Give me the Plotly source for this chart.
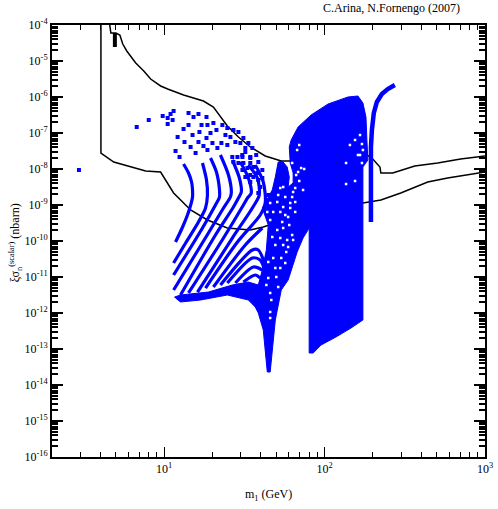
import plotly.graph_objects as go
import numpy as np

# all values are log10(mass / GeV) and log10(sigma / nbarn)
limit_upper_lm = [0.661,0.668,0.699,0.724,0.742,0.767,0.823,0.873,0.916,0.978,1.022,1.071,1.121,1.183,1.245,1.307,1.351,1.394,1.463,1.537,1.630,1.730,1.786,2.264,2.295,2.345,2.351,2.425,2.562,2.705,2.848,3.0]
limit_upper_ls = [-4,-4.222,-4.222,-4.278,-4.528,-4.722,-5.056,-5.278,-5.5,-5.694,-5.778,-5.861,-5.944,-6.028,-6.111,-6.278,-6.556,-6.806,-7.111,-7.389,-7.639,-7.778,-7.778,-7.611,-7.694,-7.944,-8.111,-8.111,-7.917,-7.833,-7.722,-7.639]
limit_lower_lm = [0.606,0.606,0.686,0.749,0.811,0.885,0.978,1.059,1.165,1.270,1.394,1.537,1.618,1.786,2.239,2.351,2.475,2.643,2.767,3.0]
limit_lower_ls = [-4,-7.556,-7.806,-7.889,-7.972,-8.056,-8.083,-8.667,-9.139,-9.417,-9.639,-9.694,-9.611,-9.361,-8.944,-8.861,-8.667,-8.361,-8.25,-8.083]
stub_lm = [0.693,0.693]
stub_ls = [-4.222,-4.611]

arcs = [
    ([1.121,1.152,1.171,1.177,1.177,1.152,1.115,1.071], [-7.861,-8.111,-8.361,-8.583,-8.778,-9.194,-9.611,-10.028]),
    ([1.239,1.264,1.270,1.258,1.214,1.134,1.059], [-7.833,-8.306,-8.722,-9.083,-9.472,-10.056,-10.611]),
    ([1.289,1.326,1.345,1.345,1.320,1.239,1.059], [-7.694,-8.083,-8.583,-8.778,-9,-9.639,-10.944]),
    ([1.351,1.401,1.419,1.413,1.370,1.276,1.059], [-7.611,-8.167,-8.639,-8.778,-9.083,-9.778,-11.361]),
    ([1.425,1.469,1.481,1.463,1.432,1.320,1.102], [-7.75,-8.25,-8.639,-8.806,-9.056,-9.833,-11.5]),
    ([1.475,1.525,1.543,1.519,1.494,1.370,1.152], [-7.806,-8.25,-8.667,-8.806,-9,-9.917,-11.444]),
    ([1.525,1.581,1.593,1.550,1.425,1.208], [-7.889,-8.25,-8.722,-9.083,-9.917,-11.417]),
    ([1.568,1.618,1.630,1.599,1.457,1.258], [-7.889,-8.361,-8.944,-9.278,-10.028,-11.306]),
    ([1.612,1.506,1.307], [-9.639,-10.111,-11.278]),
    ([1.351,1.550,1.587,1.630], [-11.222,-10.25,-10.25,-10.667]),
    ([1.394,1.550,1.599,1.630], [-11.167,-10.472,-10.528,-10.861]),
    ([1.444,1.556,1.612], [-11.167,-10.722,-10.806]),
    ([1.494,1.568,1.599], [-11.139,-10.944,-11.028]),
]

region_lm = [1.612,1.674,1.693,1.711,1.736,1.767,1.780,1.773,1.804,1.804,1.786,1.780,1.792,1.835,1.916,2.022,2.146,2.208,2.239,2.258,2.264,2.270,2.239,2.239,2.165,2.071,1.978,1.929,1.904,1.904,1.866,1.829,1.773,1.730,1.693,1.680,1.668,1.661,1.643,1.637,1.618,1.587,1.568,1.525,1.444,1.394,1.227,1.102,1.071,1.065,1.102,1.276,1.425,1.525,1.587,1.612,1.637,1.649,1.612]
region_ls = [-9.083,-8.583,-8.222,-7.806,-7.778,-7.944,-8.222,-8.5,-8.389,-8.111,-7.833,-7.389,-7.194,-6.833,-6.5,-6.194,-6,-5.972,-6.167,-6.556,-7.194,-7.75,-7.944,-12.194,-12.417,-12.667,-12.889,-13.111,-13.111,-9.639,-9.917,-10.306,-11.083,-11.361,-12.194,-12.833,-13.389,-13.639,-13.639,-13.389,-12.472,-12,-11.833,-11.639,-11.556,-11.5,-11.639,-11.694,-11.583,-11.556,-11.5,-11.417,-11.222,-11.139,-11.222,-10.806,-10.25,-9.556,-9.083]

tail_lm = [2.289,2.289,2.283,2.289,2.295,2.307,2.326,2.357,2.394,2.438]
tail_ls = [-9.472,-8.583,-7.889,-7.389,-6.917,-6.444,-6.139,-5.917,-5.778,-5.667]

dots_lm = [0.469,0.829,0.904,0.991,1.040,1.059,1.022,1.053,1.022,1.152,1.183,1.214,1.264,1.121,1.152,1.233,1.270,1.307,1.084,1.177,1.220,1.289,1.326,1.363,1.394,1.127,1.214,1.264,1.301,1.357,1.413,1.444,1.475,1.071,1.096,1.165,1.196,1.270,1.332,1.394,1.506,1.245,1.382,1.432,1.463,1.494,1.525,1.550,1.574,1.587,1.612,1.487,1.537,1.612,1.649,1.637,
           1.506,1.537,1.488,1.457,1.425,1.432,1.463,1.494,1.537,1.556,1.488,1.519,1.506,1.537,1.556,1.581,1.537,1.587,1.599,1.587]
dots_ls = [-8.028,-6.833,-6.639,-6.528,-6.472,-6.389,-6.583,-6.639,-6.75,-6.444,-6.556,-6.472,-6.556,-6.889,-6.778,-6.778,-6.778,-6.722,-7.111,-7.056,-6.972,-7,-6.917,-6.778,-6.861,-7.25,-7.25,-7.139,-7.278,-7.278,-7.111,-7.25,-7.278,-7.5,-7.667,-7.389,-7.556,-7.472,-7.417,-7.333,-7.417,-7.361,-7.056,-6.917,-6.972,-7.139,-7.278,-7.417,-7.611,-7.806,-8.028,-7.611,-7.694,-8.25,-8.722,-9,
           -7.528,-7.667,-7.667,-7.667,-7.667,-7.806,-7.833,-7.833,-7.833,-7.944,-8.028,-7.972,-8.222,-8.167,-8.222,-8.111,-8.361,-8.306,-8.5,-8.667]

gaps_lm = [1.835,1.823,2.134,2.134,2.190,1.798,1.829,1.842,1.854,1.873,1.842,1.866,1.817,1.804,1.798,1.755,1.817,1.786,1.742,1.786,1.817,1.724,1.755,1.773,1.736,1.780,1.705,1.742,1.798,1.674,1.724,1.767,1.804,1.693,1.742,1.773,1.661,1.680,1.661,1.643,1.705,1.711,1.724,1.742,2.233,2.239,2.221,2.233,1.649,1.699,1.661,1.668,1.637,1.724,1.680,1.730,1.661,1.661,1.755,1.711,1.649,1.693,1.761,2.190,2.221,2.158,2.208]
gaps_ls = [-8.083,-8.167,-7.833,-8.417,-8.333,-7.833,-7.472,-7.333,-7.972,-8,-8.333,-8.583,-8.528,-8.639,-8.778,-8.778,-8.917,-8.944,-9.056,-9.083,-9.194,-9.194,-9.278,-9.333,-9.472,-9.556,-9.694,-9.639,-9.833,-9.889,-9.917,-9.972,-9.972,-10.111,-10.111,-10.167,-9.417,-9.194,-8.944,-9.194,-8.917,-8.722,-8.528,-8.5,-7.306,-7.472,-7.611,-7.833,-11.028,-11,-11.444,-11.639,-11.222,-10.75,-10.472,-10.472,-11.972,-12.139,-10.611,-11.278,-10.583,-10.75,-10.306,-7.194,-7.056,-7.333,-7.611]

x_ticks = [10, 100, 1000]
x_labels = ["10<sup>1</sup>", "10<sup>2</sup>", "10<sup>3</sup>"]
y_exps = [-4,-5,-6,-7,-8,-9,-10,-11,-12,-13,-14,-15,-16]
y_labels = ["10<sup>-%d</sup>" % -e for e in y_exps]

BLUE = "#0000ff"

def p(v):
    return 10 ** np.array(v, dtype=float)

fig = go.Figure()
for lm, ls, w in [(limit_upper_lm, limit_upper_ls, 1.5), (limit_lower_lm, limit_lower_ls, 1.5), (stub_lm, stub_ls, 4)]:
    fig.add_trace(go.Scatter(x=p(lm), y=p(ls), mode="lines", line=dict(color="black", width=w), hoverinfo="skip"))
fig.add_trace(go.Scatter(x=p(region_lm), y=p(region_ls), mode="lines", fill="toself", fillcolor=BLUE,
                         line=dict(color=BLUE, width=1), hoverinfo="skip"))
for lm, ls in arcs:
    fig.add_trace(go.Scatter(x=p(lm), y=p(ls), mode="lines", line=dict(color=BLUE, width=3.2, shape="spline", smoothing=0.8), hoverinfo="skip"))
fig.add_trace(go.Scatter(x=p(tail_lm), y=p(tail_ls), mode="lines", line=dict(color=BLUE, width=4.5), hoverinfo="skip"))
fig.add_trace(go.Scatter(x=p(dots_lm), y=p(dots_ls), mode="markers",
                         marker=dict(color=BLUE, size=4, symbol="square"), hoverinfo="skip"))
fig.add_trace(go.Scatter(x=p(gaps_lm), y=p(gaps_ls), mode="markers",
                         marker=dict(color="white", size=2.5, symbol="square"), hoverinfo="skip"))

FONT = "Liberation Serif"
axis_common = dict(type="log", automargin=False, showgrid=False, zeroline=False, showline=True, linecolor="black", linewidth=2,
                   mirror="allticks", ticks="inside", tickcolor="black",
                   tickfont=dict(family=FONT, size=12, color="black"))
fig.update_xaxes(range=[np.log10(2), 3], tickmode="array", tickvals=x_ticks, ticktext=x_labels, ticklen=10, tickwidth=1,
                 minor=dict(dtick="D1", ticks="inside", ticklen=5, tickwidth=1, tickcolor="black", showgrid=False),
                 **axis_common)
fig.update_yaxes(range=[-16, -4], tickmode="array", tickvals=[10.0 ** e for e in y_exps], ticktext=y_labels, ticklen=11, tickwidth=2,
                 minor=dict(dtick="D1", ticks="inside", ticklen=6, tickwidth=2, tickcolor="black", showgrid=False),
                 **axis_common)

ann = dict(showarrow=False, font=dict(family=FONT, size=12, color="black"), xref="paper", yref="paper",
           xanchor="center", yanchor="middle")
fig.update_layout(
    width=498, height=509, showlegend=False, paper_bgcolor="white", plot_bgcolor="white",
    margin=dict(l=52, r=13, t=25, b=52),
    annotations=[
        dict(text="C.Arina, N.Fornengo (2007)", x=0.783, y=1.039, **ann),
        dict(text="m<sub>1</sub> (GeV)", x=0.499, y=-0.088, **ann),
        dict(text="ξσ<sub>n</sub><sup>(scalar)</sup> (nbarn)", x=-0.085, y=0.495, textangle=-90, **ann),
    ],
)
fig.write_html("out.html", config=dict(displayModeBar=False), post_script="document.body.style.margin='0';")
